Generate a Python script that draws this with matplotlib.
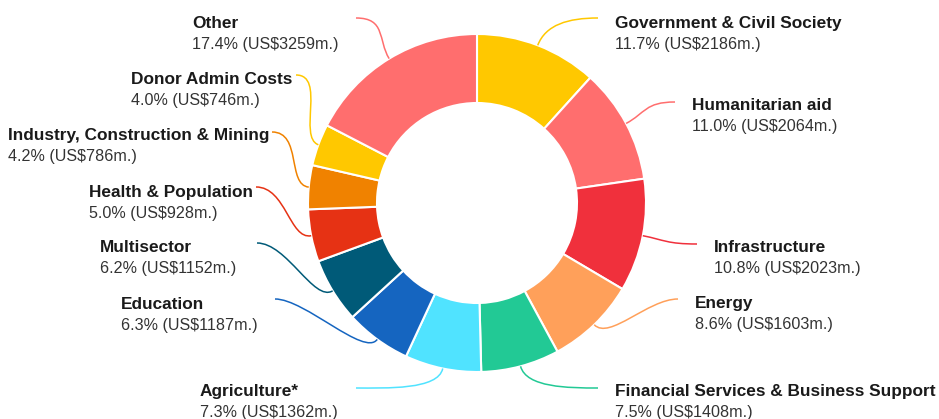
import matplotlib.pyplot as plt
from matplotlib.path import Path
from matplotlib.patches import PathPatch
import numpy as np

# data
sectors = ['Government & Civil Society', 'Humanitarian aid', 'Infrastructure', 'Energy',
           'Financial Services & Business Support', 'Agriculture*', 'Education', 'Multisector',
           'Health & Population', 'Industry, Construction & Mining', 'Donor Admin Costs', 'Other']
shares = [11.7, 11.0, 10.8, 8.6, 7.5, 7.3, 6.3, 6.2, 5.0, 4.2, 4.0, 17.4]
amounts = [2186, 2064, 2023, 1603, 1408, 1362, 1187, 1152, 928, 786, 746, 3259]
colors = ['#FFC800', '#FF6E6E', '#F0303C', '#FFA05A', '#22C995', '#50E3FF',
          '#1565C0', '#005A78', '#E63214', '#F08200', '#FFC800', '#FF6E6E']

# layout (pixel coords, y measured from top)
W, H = 939, 419
cx, cy = 477, 203
r_out, r_in = 169, 100
text_x = [615, 692, 714, 695, 615, 200, 121, 100, 89, 8, 131, 192]
text_y = [28, 110, 252, 308, 396, 396, 309, 252, 197, 140, 84, 28]
line_end = [(598, 18), (675, 102), (697, 244), (678, 299), (598, 388), (356, 388),
            (275, 299), (257, 243), (256, 187), (272, 132), (296, 75), (356, 18)]

plt.rcParams['font.family'] = ['Liberation Sans', 'DejaVu Sans']

fig = plt.figure(figsize=(W / 100, H / 100), dpi=100)
ax = fig.add_axes([0, 0, 1, 1])

wedges, _ = ax.pie(shares, colors=colors, startangle=90, counterclock=False,
                   radius=r_out, center=(cx, H - cy),
                   wedgeprops=dict(width=r_out - r_in, edgecolor='white', linewidth=1.5))

for w, name, s, a, c, tx, ty, (ex, ey) in zip(wedges, sectors, shares, amounts, colors,
                                              text_x, text_y, line_end):
    mid = np.deg2rad((w.theta1 + w.theta2) / 2)
    ux, uy = np.cos(mid), np.sin(mid)
    p0 = (cx + r_out * ux, H - cy + r_out * uy)
    p1 = (p0[0] + 22 * ux, p0[1] + 22 * uy)
    side = 1 if ex > cx else -1
    p3 = (ex, H - ey)
    p2 = (ex - side * 30, H - ey)
    path = Path([p0, p1, p2, p3], [Path.MOVETO, Path.CURVE4, Path.CURVE4, Path.CURVE4])
    ax.add_patch(PathPatch(path, fill=False, edgecolor=c, linewidth=1.1))

    ax.text(tx, H - ty, name, fontsize=12.4, fontweight='bold', color='#1a1a1a',
            ha='left', va='baseline')
    ax.text(tx, H - ty - 21, f'{s:.1f}% (US${a}m.)', fontsize=11.6, color='#333333',
            ha='left', va='baseline')

ax.set_xlim(0, W)
ax.set_ylim(0, H)
ax.axis('off')

fig.savefig('out.png', dpi=100)
